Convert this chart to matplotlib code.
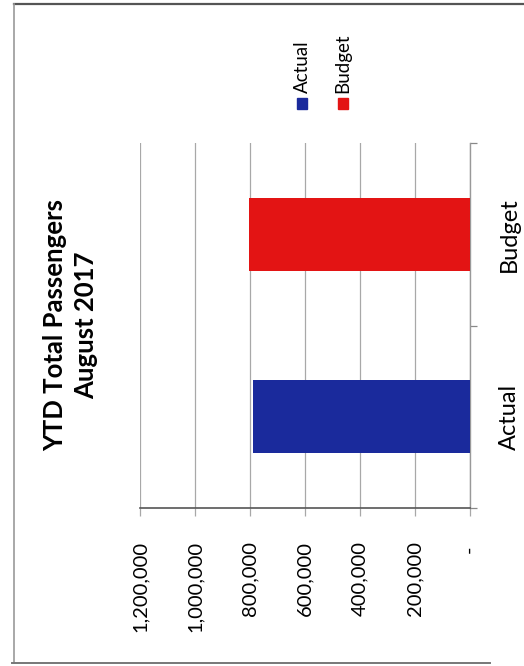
import matplotlib
matplotlib.use("Agg")
import matplotlib.pyplot as plt
from matplotlib.patches import Rectangle
from matplotlib.lines import Line2D
from matplotlib.ticker import FuncFormatter, FixedLocator

# ----------------------------
# Data
# ----------------------------
categories = ["Actual", "Budget"]
passengers = [790000, 803000]
bar_colors = ["#1a2a9c", "#e31414"]
value_ticks = [0, 200000, 400000, 600000, 800000, 1000000, 1200000]
title = "YTD Total Passengers\nAugust 2017"

plt.rcParams["font.family"] = ["Lato", "DejaVu Sans"]

W, H = 524, 666
fig = plt.figure(figsize=(W / 100, H / 100), dpi=100)


def fx(px):
    return px / W


def fy(py):
    return 1 - py / H


# page frame of the scan
fig.add_artist(Line2D([fx(14), fx(524)], [fy(4), fy(4)], color="#555555", lw=1.6))
fig.add_artist(Line2D([fx(14), fx(14)], [fy(4), fy(663)], color="#9a9a9a", lw=1.2))
fig.add_artist(Line2D([fx(12), fx(490)], [fy(663), fy(663)], color="#777777", lw=1.4))

# ----------------------------
# Plot (chart is shown rotated a quarter turn)
# ----------------------------
ax = fig.add_axes([fx(140), fy(508), fx(470) - fx(140), fy(143) - fy(508)])
ypos = list(range(len(categories)))
ax.barh(ypos, passengers, height=0.4, color=bar_colors, zorder=3)

ax.set_xlim(1200000, 0)
ax.set_ylim(-0.5, len(categories) - 0.5)

ax.xaxis.set_major_locator(FixedLocator(value_ticks))
ax.xaxis.set_major_formatter(FuncFormatter(lambda v, p: "- " if v == 0 else f"{int(v):,}"))
ax.grid(axis="x", color="#a8a8a8", lw=0.9, zorder=0)
ax.tick_params(axis="x", direction="out", length=6, width=0.9, color="#a8a8a8",
               pad=18, labelsize=14.5, labelrotation=90)
for lbl in ax.get_xticklabels():
    lbl.set_va("top")
    lbl.set_ha("center")

ax.yaxis.tick_right()
ax.set_yticks(ypos)
ax.set_yticklabels(categories)
ax.set_yticks([-0.5, 0.5, 1.5], minor=True)
ax.tick_params(axis="y", which="major", length=0, pad=21, labelsize=17)
ax.tick_params(axis="y", which="minor", direction="out", length=5, width=0.9, color="#888888")
for lbl in ax.get_yticklabels():
    lbl.set_rotation(90)
    lbl.set_va("center")
    lbl.set_ha("left")

for side in ["top", "left"]:
    ax.spines[side].set_visible(False)
ax.spines["right"].set_color("#999999")
ax.spines["right"].set_linewidth(1.0)
ax.spines["bottom"].set_color("#555555")
ax.spines["bottom"].set_linewidth(1.2)

# title
fig.text(fx(71), fy(325), title, rotation=90, ha="center", va="center",
         multialignment="center", fontsize=18.5, fontweight="bold", linespacing=1.35)

# legend
for i, (name, col) in enumerate(zip(categories, bar_colors)):
    cx = [302, 343][i]
    fig.add_artist(Rectangle((fx(cx - 5), fy(109)), fx(10), fy(98) - fy(109),
                             transform=fig.transFigure, color=col))
    fig.text(fx(cx), fy(93), name, rotation=90, ha="center", va="bottom", fontsize=13.5)

fig.savefig("out.png", dpi=100)
plt.close(fig)
